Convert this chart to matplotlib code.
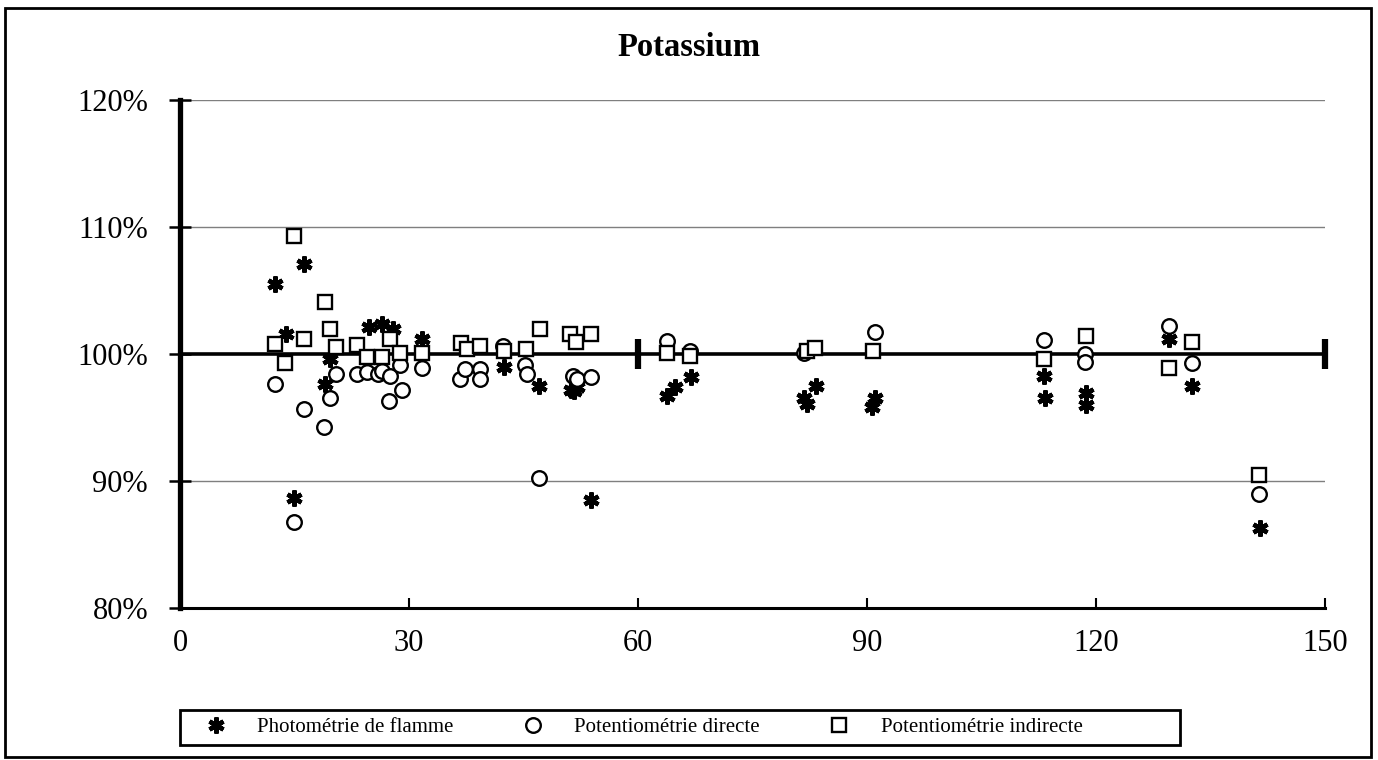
import numpy as np
import matplotlib.pyplot as plt
from matplotlib.patches import Rectangle
from matplotlib.ticker import FuncFormatter

plt.rcParams['font.family'] = ['Liberation Serif', 'DejaVu Serif']

# Photométrie de flamme
flamme_x = [12.4, 13.9, 14.9, 16.3, 19.0, 19.7, 24.7, 26.4, 27.9, 31.7, 42.4, 47.0,
            51.2, 51.6, 52.0, 53.9, 63.8, 64.8, 67.0, 81.7, 82.2, 83.3, 90.6, 91.0,
            113.2, 113.3, 118.7, 118.7, 129.5, 132.6, 141.5]
flamme_y = [105.5, 101.6, 88.7, 107.1, 97.6, 99.6, 102.1, 102.35, 102.0, 101.2, 99.0, 97.5,
            97.2, 97.1, 97.4, 88.5, 96.7, 97.4, 98.2, 96.5, 96.1, 97.5, 95.8, 96.5,
            98.3, 96.5, 96.9, 95.95, 101.2, 97.5, 86.3]

# Potentiométrie directe
directe_x = [12.4, 14.9, 16.2, 18.9, 19.7, 20.4, 23.2, 24.5, 26.0, 26.4, 27.4, 27.5, 28.8,
             29.1, 31.7, 36.7, 37.3, 39.3, 39.3, 42.3, 45.2, 45.5, 47.0, 51.5, 52.0, 53.9,
             63.8, 66.8, 81.8, 91.0, 113.2, 118.6, 118.6, 129.5, 132.6, 141.4]
directe_y = [97.6, 86.75, 95.7, 94.25, 96.55, 98.4, 98.4, 98.55, 98.4, 98.7, 96.3, 98.3, 99.1,
             97.2, 98.9, 98.0, 98.8, 98.8, 98.0, 100.6, 99.1, 98.4, 90.25, 98.3, 98.0, 98.2,
             101.05, 100.26, 100.1, 101.7, 101.1, 100.0, 99.4, 102.2, 99.3, 89.0]

# Potentiométrie indirecte
indirecte_x = [12.4, 13.8, 14.9, 16.2, 19.0, 19.7, 20.4, 23.2, 24.5, 26.4, 27.5, 28.8, 31.7,
               36.8, 37.6, 39.3, 42.4, 45.3, 47.1, 51.1, 51.9, 53.9, 63.8, 66.8, 82.1, 83.2,
               90.8, 113.2, 118.7, 129.5, 132.6, 141.4]
indirecte_y = [100.75, 99.3, 109.3, 101.2, 104.1, 102.0, 100.55, 100.7, 99.75, 99.75, 101.2,
               100.1, 100.1, 100.9, 100.4, 100.65, 100.25, 100.4, 102.0, 101.55, 100.95, 101.55,
               100.1, 99.85, 100.25, 100.5, 100.25, 99.6, 101.4, 98.9, 100.95, 90.5]

ref_x = [0, 60, 150]
ref_y = [100, 100, 100]

fig = plt.figure(figsize=(13.78, 7.6), dpi=100)
ax = fig.add_axes([180/1378, 1-608/760, 1145/1378, 508/760])

ax.set_xlim(0, 150)
ax.set_ylim(80, 120)
ax.set_xticks(range(0, 151, 30))
ax.set_yticks(range(80, 121, 10))
ax.yaxis.set_major_formatter(FuncFormatter(lambda v, p: f"{v:.0f}%"))

for g in [90, 110, 120]:
    ax.axhline(g, color='#7f7f7f', lw=1.0, zorder=1)

# reference line at 100%
ax.plot(ref_x, ref_y, color='black', lw=2.6, zorder=2, solid_capstyle='butt')
ax.plot(ref_x[1:], ref_y[1:], ls='none', marker='|', ms=21, mew=4.5, color='black', zorder=2,
        clip_on=False)

star = (6, 2, 0)
h1, = ax.plot(flamme_x, flamme_y, ls='none', marker=star, ms=11.5, mew=3.2, color='black',
              zorder=3, label='Photométrie de flamme')
h2, = ax.plot(directe_x, directe_y, ls='none', marker='o', ms=10.5, mew=1.7, mfc='white',
              mec='black', zorder=4, label='Potentiométrie directe')
h3, = ax.plot(indirecte_x, indirecte_y, ls='none', marker='s', ms=10.5, mew=1.7, mfc='white',
              mec='black', zorder=5, label='Potentiométrie indirecte')

for s in ['top', 'right']:
    ax.spines[s].set_visible(False)
ax.spines['left'].set_linewidth(3.8)
ax.spines['bottom'].set_linewidth(2.2)
ax.spines['left'].set_zorder(6)

ax.tick_params(axis='y', direction='inout', length=16, width=1.8, pad=15, labelsize=22)
ax.tick_params(axis='x', direction='in', length=7, width=1.5, pad=15, labelsize=22)

fig.text(0.5, 1-47/760, 'Potassium', ha='center', va='center', fontsize=23.5, fontweight='bold')

# legend box drawn separately, entries placed inside it
fig.patches.append(Rectangle((180/1378, 1-745/760), 1000/1378, 35/760, transform=fig.transFigure,
                             fill=False, lw=2, edgecolor='black'))
leg = fig.legend(handles=[h1, h2, h3], ncol=3, loc='center left',
                 bbox_to_anchor=(201/1378, 1-727.5/760), borderaxespad=0, borderpad=0,
                 frameon=False, fontsize=15, handlelength=1.4,
                 handletextpad=1.3, columnspacing=3.1)

fig.patches.append(Rectangle((5/1378, 3/760), 1366/1378, 749/760, transform=fig.transFigure,
                             fill=False, lw=2, edgecolor='black'))

fig.savefig('out.png', dpi=100)
